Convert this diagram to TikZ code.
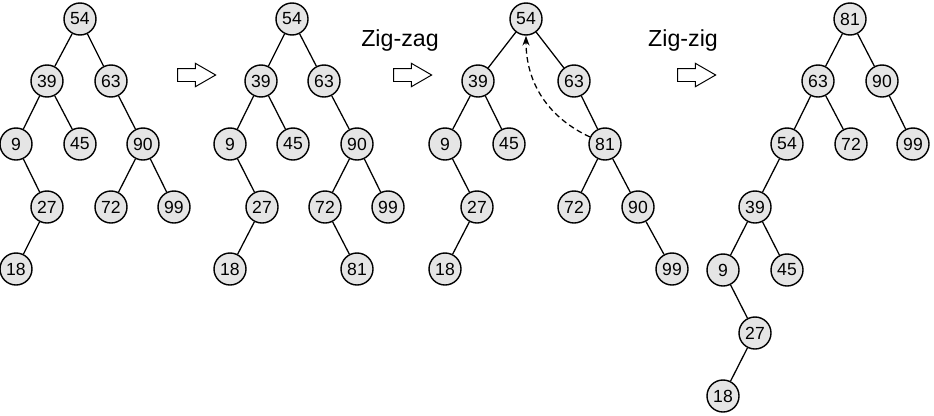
\documentclass[tikz,border=0pt]{standalone}
\usepackage{fontspec}
\setmainfont{Liberation Sans}
\usetikzlibrary{arrows.meta,shapes.arrows}

\begin{document}
\begin{tikzpicture}[  x = 0.025cm,  y = -0.025cm,  > = Stealth,
  vertex/.style = {circle, draw, line width=1pt, fill=black!10, minimum size=0.8cm, inner sep=0pt, font=\fontsize{12.5}{14}\selectfont},
  edge/.style = {line width=0.9pt},
  shift arrow/.style = {single arrow, draw, line width=0.7pt, fill=white, minimum height=0.95cm, inner sep=0.15cm, single arrow head extend=0.13cm, single arrow tip angle=60},
  caption/.style = {font=\fontsize{16.5}{19}\selectfont}]
  \useasboundingbox (0,0) rectangle (934,415);

  % First tree
  \node[vertex] (a54) at (80,19) {54};
  \node[vertex] (a39) at (47,81) {39};
  \node[vertex] (a63) at (111,81) {63};
  \node[vertex] (a9) at (16,144) {9};
  \node[vertex] (a45) at (80,144) {45};
  \node[vertex] (a90) at (143,144) {90};
  \node[vertex] (a27) at (47,207) {27};
  \node[vertex] (a72) at (111,207) {72};
  \node[vertex] (a99) at (174,207) {99};
  \node[vertex] (a18) at (16,269) {18};
  \draw[edge] (a54) -- (a39);
  \draw[edge] (a54) -- (a63);
  \draw[edge] (a39) -- (a9);
  \draw[edge] (a39) -- (a45);
  \draw[edge] (a63) -- (a90);
  \draw[edge] (a9) -- (a27);
  \draw[edge] (a27) -- (a18);
  \draw[edge] (a90) -- (a72);
  \draw[edge] (a90) -- (a99);

  % Second tree
  \node[vertex] (b54) at (292,19) {54};
  \node[vertex] (b39) at (261,81) {39};
  \node[vertex] (b63) at (324,81) {63};
  \node[vertex] (b9) at (230,144) {9};
  \node[vertex] (b45) at (293,144) {45};
  \node[vertex] (b90) at (357,144) {90};
  \node[vertex] (b27) at (262,207) {27};
  \node[vertex] (b72) at (325,207) {72};
  \node[vertex] (b99) at (388,207) {99};
  \node[vertex] (b18) at (230,269) {18};
  \node[vertex] (b81) at (357,269) {81};
  \draw[edge] (b54) -- (b39);
  \draw[edge] (b54) -- (b63);
  \draw[edge] (b39) -- (b9);
  \draw[edge] (b39) -- (b45);
  \draw[edge] (b63) -- (b90);
  \draw[edge] (b9) -- (b27);
  \draw[edge] (b27) -- (b18);
  \draw[edge] (b90) -- (b72);
  \draw[edge] (b90) -- (b99);
  \draw[edge] (b72) -- (b81);

  % Third tree
  \node[vertex] (c54) at (526,19) {54};
  \node[vertex] (c39) at (478,81) {39};
  \node[vertex] (c63) at (574,81) {63};
  \node[vertex] (c9) at (445,144) {9};
  \node[vertex] (c45) at (509,144) {45};
  \node[vertex] (c81) at (605,144) {81};
  \node[vertex] (c27) at (477,207) {27};
  \node[vertex] (c72) at (574,207) {72};
  \node[vertex] (c90) at (638,207) {90};
  \node[vertex] (c18) at (445,269) {18};
  \node[vertex] (c99) at (672,269) {99};
  \draw[edge] (c54) -- (c39);
  \draw[edge] (c54) -- (c63);
  \draw[edge] (c39) -- (c9);
  \draw[edge] (c39) -- (c45);
  \draw[edge] (c63) -- (c81);
  \draw[edge] (c9) -- (c27);
  \draw[edge] (c27) -- (c18);
  \draw[edge] (c81) -- (c72);
  \draw[edge] (c81) -- (c90);
  \draw[edge] (c90) -- (c99);
  \draw[edge, -{Stealth[length=7pt,width=5pt]}, dash pattern=on 4pt off 2.5pt] (c81) to[out=155, in=-90] (c54);

  % Fourth tree
  \node[vertex] (d81) at (850,19) {81};
  \node[vertex] (d63) at (818,81) {63};
  \node[vertex] (d90) at (882,81) {90};
  \node[vertex] (d54) at (787,144) {54};
  \node[vertex] (d72) at (851,144) {72};
  \node[vertex] (d99) at (913,144) {99};
  \node[vertex] (d39) at (755,207) {39};
  \node[vertex] (d9) at (723,270) {9};
  \node[vertex] (d45) at (787,270) {45};
  \node[vertex] (d27) at (755,333) {27};
  \node[vertex] (d18) at (723,396) {18};
  \draw[edge] (d81) -- (d63);
  \draw[edge] (d81) -- (d90);
  \draw[edge] (d63) -- (d54);
  \draw[edge] (d63) -- (d72);
  \draw[edge] (d90) -- (d99);
  \draw[edge] (d54) -- (d39);
  \draw[edge] (d39) -- (d9);
  \draw[edge] (d39) -- (d45);
  \draw[edge] (d9) -- (d27);
  \draw[edge] (d27) -- (d18);

  % Steps between trees
  \node[shift arrow] (s1) at (191,75) {};
  \node[shift arrow] (s2) at (407,75) {};
  \node[shift arrow] (s3) at (691,75) {};
  \node[caption] (zigzag) at (400,40) {Zig-zag};
  \node[caption] (zigzig) at (683,40) {Zig-zig};
\end{tikzpicture}
\end{document}
